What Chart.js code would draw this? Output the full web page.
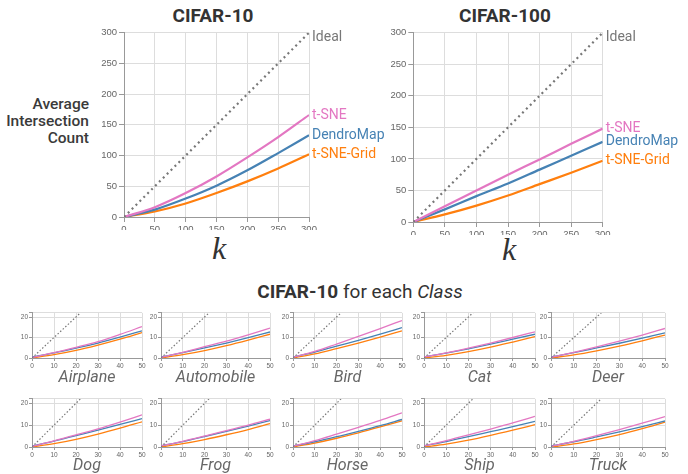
<!DOCTYPE html>
<html lang="en">
<head>
<meta charset="UTF-8">
<title>Average Intersection Count</title>
<script src="https://cdn.jsdelivr.net/npm/chart.js"></script>
<style>
  body { margin: 0; width: 688px; height: 474px; position: relative; background: #fff; font-family: Roboto, sans-serif; overflow: hidden; }
  canvas { position: absolute; }
  .t { position: absolute; white-space: nowrap; color: #333; }
  .title { font-size: 19px; font-weight: 700; line-height: 19px; transform: translateX(-50%); }
  .ytitle { font-size: 15.5px; font-weight: 500; line-height: 17px; text-align: right; color: #3a3a3a; }
  .k { font-family: "Liberation Serif", serif; font-style: italic; font-size: 32px; line-height: 32px; transform: translateX(-50%); }
  .cls { font-size: 16px; font-style: italic; color: #666; line-height: 16px; transform: translateX(-50%); }
</style>
</head>
<body>

<div class="t title" style="left:213px; top:6px;">CIFAR-10</div>
<div class="t title" style="left:505px; top:6px;">CIFAR-100</div>
<div class="t ytitle" style="right:599px; top:96px;">Average<br>Intersection<br>Count</div>
<div class="t k" style="left:219px; top:232px;">k</div>
<div class="t k" style="left:509px; top:233px;">k</div>
<div class="t title" style="left:360px; top:282px; font-weight:400;"><b>CIFAR-10</b> for each <i>Class</i></div>

<canvas id="big10" width="290" height="205" style="left:95px; top:25px;"></canvas>
<canvas id="big100" width="302" height="210" style="left:386px; top:25px;"></canvas>
<div id="small"></div>

<script>
// ---- data ----
const kBig = [0, 50, 100, 150, 200, 250, 300];
const c10Tsne   = [0, 16, 39, 66, 97, 130, 166];
const c10Dendro = [0, 12, 30, 51, 76, 104, 133];
const c10Grid   = [0, 9, 22, 39, 58, 79, 102];
const c100Tsne   = [0, 25, 50, 75, 99, 124, 148];
const c100Dendro = [0, 20, 41, 61, 83, 105, 127];
const c100Grid   = [0, 12, 26, 42, 60, 78, 97];
const idealBig = [0, 300];

const kSmall = [0, 10, 20, 30, 40, 50];
const idealSmall = [0, 50];
const smallYTicks = [0, 10, 20, 22];
const classes = ['Airplane', 'Automobile', 'Bird', 'Cat', 'Deer', 'Dog', 'Frog', 'Horse', 'Ship', 'Truck'];
const tsneClass = [
  [0.3, 2.6, 5.2, 8.0, 11.5, 15.3],
  [0.3, 2.8, 5.5, 8.2, 11.3, 14.6],
  [0.3, 3.2, 6.8, 10.5, 14.3, 18.3],
  [0.5, 2.5, 4.8, 7.3, 10.0, 12.8],
  [0.3, 2.8, 5.4, 8.2, 11.2, 14.4],
  [0.3, 2.8, 5.5, 8.3, 11.4, 14.7],
  [0.5, 2.6, 5.0, 7.5, 10.0, 12.7],
  [0.3, 2.9, 5.9, 9.0, 12.2, 15.6],
  [0.5, 2.9, 5.5, 8.2, 11.0, 14.0],
  [0.3, 2.6, 5.2, 8.0, 10.9, 13.9]
];
const dendroClass = [
  [0.5, 2.5, 4.8, 7.3, 10.2, 13.2],
  [0.5, 2.6, 4.9, 7.3, 9.9, 12.7],
  [0.5, 2.9, 5.8, 8.6, 11.6, 14.8],
  [0.5, 2.4, 4.5, 6.8, 9.2, 11.6],
  [0.5, 2.6, 4.9, 7.2, 9.7, 12.3],
  [0.5, 2.7, 5.2, 7.7, 10.3, 13.0],
  [0.5, 2.5, 4.8, 7.2, 9.6, 12.1],
  [0.5, 2.4, 4.7, 7.2, 9.8, 12.6],
  [0.5, 2.5, 4.7, 7.0, 9.3, 11.7],
  [0.5, 2.4, 4.6, 6.9, 9.3, 11.9]
];
const gridClass = [
  [0, 1.6, 3.7, 6.3, 9.2, 12.4],
  [0, 1.6, 3.6, 6.0, 8.7, 11.6],
  [0, 2.0, 4.6, 7.3, 10.2, 13.2],
  [0, 1.3, 3.1, 5.3, 7.8, 10.4],
  [0, 1.5, 3.5, 5.8, 8.4, 11.2],
  [0, 1.5, 3.5, 5.9, 8.6, 11.5],
  [0, 1.5, 3.4, 5.6, 8.0, 10.7],
  [0, 1.8, 4.0, 6.5, 9.2, 12.0],
  [0, 1.3, 3.1, 5.3, 7.7, 10.2],
  [0, 1.4, 3.4, 5.7, 8.4, 11.4]
];

const PINK = '#e377c2', BLUE = '#4682b4', ORANGE = '#ff7f0e', GRAY = '#777';

function pts(xs, ys) { return xs.map((x, i) => ({ x: x, y: ys[i] })); }

// labels at the end of each line
const endLabels = {
  id: 'endLabels',
  afterDatasetsDraw(chart) {
    const ctx = chart.ctx;
    chart.data.datasets.forEach((ds, i) => {
      if (!ds.endLabel) return;
      const meta = chart.getDatasetMeta(i);
      const last = meta.data[meta.data.length - 1];
      ctx.save();
      ctx.font = '14px Roboto';
      ctx.fillStyle = ds.borderColor;
      ctx.textBaseline = 'middle';
      ctx.fillText(ds.endLabel, last.x + 3, last.y + (ds.labelDy || 0));
      ctx.restore();
    });
  }
};

function lineSet(data, color, w, label) {
  return { data: data, borderColor: color, borderWidth: w, endLabel: label, cubicInterpolationMode: 'monotone' };
}
function idealSet(data, w, dash, label) {
  return { data: data, borderColor: GRAY, borderWidth: w, borderDash: dash, endLabel: label, labelDy: 5 };
}

function makeChart(canvas, datasets, o) {
  return new Chart(canvas, {
    type: 'line',
    data: { datasets: datasets },
    options: {
      responsive: false,
      animation: false,
      layout: { padding: o.pad },
      plugins: { legend: { display: false }, tooltip: { enabled: false } },
      elements: { point: { radius: 0 } },
      scales: {
        x: {
          type: 'linear', min: 0, max: o.xmax,
          ticks: { stepSize: o.xstep, color: '#666', font: { size: o.fs }, padding: o.tp, maxRotation: 0 },
          grid: { color: '#ddd', tickLength: o.tl, tickColor: '#999' },
          border: { color: '#999' },
          afterFit: s => { s.height = o.xh; }
        },
        y: {
          min: 0, max: o.ymax,
          ticks: { stepSize: o.ystep, color: '#666', font: { size: o.fs }, padding: o.tp,
                   callback: v => (v % o.ystep === 0 ? v : '') },
          grid: { color: '#ddd', tickLength: o.tl, tickColor: '#999' },
          border: { color: '#999' },
          afterBuildTicks: s => { if (o.yticks) s.ticks = o.yticks.map(v => ({ value: v })); },
          afterFit: s => { s.width = o.yw; }
        }
      }
    },
    plugins: [endLabels]
  });
}

const bigOpts = { xmax: 300, ymax: 300, xstep: 50, ystep: 50, fs: 9.5, tp: 2, tl: 5, xh: 13 };

makeChart(document.getElementById('big10'), [
  idealSet(pts(idealBig, idealBig), 2.2, [2, 3.5], 'Ideal'),
  lineSet(pts(kBig, c10Tsne), PINK, 2.2, 't-SNE'),
  lineSet(pts(kBig, c10Dendro), BLUE, 2.2, 'DendroMap'),
  lineSet(pts(kBig, c10Grid), ORANGE, 2.2, 't-SNE-Grid')
], Object.assign({}, bigOpts, { yw: 29, pad: { top: 6.7, right: 76, left: 0, bottom: 0 } }));

makeChart(document.getElementById('big100'), [
  idealSet(pts(idealBig, idealBig), 2.2, [2, 3.5], 'Ideal'),
  lineSet(pts(kBig, c100Tsne), PINK, 2.2, 't-SNE'),
  lineSet(pts(kBig, c100Dendro), BLUE, 2.2, 'DendroMap'),
  lineSet(pts(kBig, c100Grid), ORANGE, 2.2, 't-SNE-Grid')
], Object.assign({}, bigOpts, { yw: 27.3, pad: { top: 7.3, right: 85.3, left: 0, bottom: 0 } }));

// small multiples: plot areas
const colL = [32, 161, 293, 424, 551];
const colR = [142, 270, 402, 535, 665];
const rowT = [311, 397];
const rowB = [358, 447];
const labelTop = [369, 457];

const holder = document.getElementById('small');
classes.forEach((name, i) => {
  const r = Math.floor(i / 5), c = i % 5;
  const cv = document.createElement('canvas');
  const yw = 20, xh = 11, padT = 3, padR = 7;
  cv.width = colR[c] - colL[c] + yw + padR;
  cv.height = rowB[r] - rowT[r] + padT + xh;
  cv.style.left = (colL[c] - yw) + 'px';
  cv.style.top = (rowT[r] - padT) + 'px';
  holder.appendChild(cv);

  const lab = document.createElement('div');
  lab.className = 't cls';
  lab.textContent = name;
  lab.style.left = ((colL[c] + colR[c]) / 2) + 'px';
  lab.style.top = labelTop[r] + 'px';
  holder.appendChild(lab);

  makeChart(cv, [
    idealSet(pts(idealSmall, idealSmall), 1.2, [1.5, 2]),
    lineSet(pts(kSmall, tsneClass[i]), PINK, 1.3),
    lineSet(pts(kSmall, dendroClass[i]), BLUE, 1.3),
    lineSet(pts(kSmall, gridClass[i]), ORANGE, 1.3)
  ], { xmax: 50, ymax: 22, xstep: 10, ystep: 10, fs: 6.5, tp: 1, tl: 3, xh: xh, yw: yw, yticks: smallYTicks,
       pad: { top: padT, right: padR, left: 0, bottom: 0 } });
});
</script>
</body>
</html>
